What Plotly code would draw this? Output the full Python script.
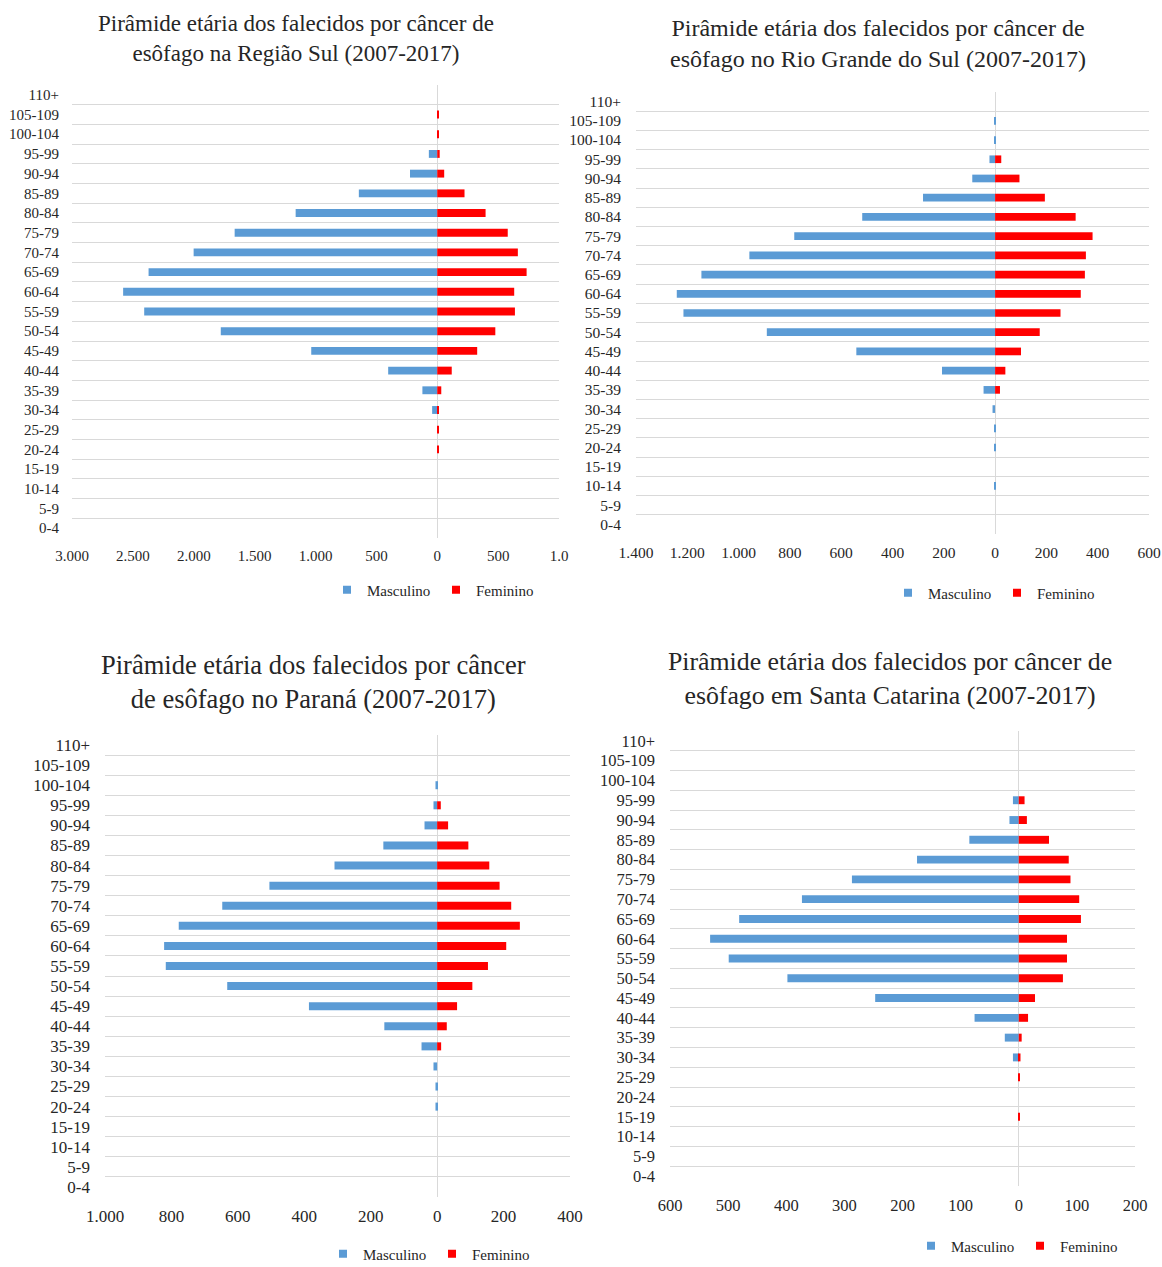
import plotly.graph_objects as go

# ---------------- data ----------------
AGES = ["0-4", "5-9", "10-14", "15-19", "20-24", "25-29", "30-34", "35-39",
        "40-44", "45-49", "50-54", "55-59", "60-64", "65-69", "70-74", "75-79",
        "80-84", "85-89", "90-94", "95-99", "100-104", "105-109", "110+"]

SUL_MASC = [0, 0, 0, 0, 0, 0, 42, 122, 403, 1035, 1778, 2407, 2580, 2371,
            2001, 1664, 1163, 644, 224, 69, 0, 0, 0]
SUL_FEM = [0, 0, 0, 0, 10, 10, 12, 33, 119, 328, 477, 638, 632, 734,
           662, 579, 397, 224, 57, 20, 10, 10, 0]

RS_MASC = [0, 0, 4, 0, 4, 4, 10, 45, 207, 541, 890, 1215, 1241, 1145,
           958, 783, 518, 281, 89, 22, 4, 4, 0]
RS_FEM = [0, 0, 0, 0, 0, 0, 0, 19, 40, 101, 174, 255, 334, 350,
          354, 380, 314, 194, 95, 24, 0, 0, 0]

PR_MASC = [0, 0, 0, 0, 5, 5, 11, 47, 159, 386, 632, 817, 822, 778,
           647, 505, 309, 162, 38, 11, 5, 0, 0]
PR_FEM = [0, 0, 0, 0, 0, 0, 0, 12, 29, 60, 106, 153, 208, 249,
          223, 188, 157, 94, 33, 11, 0, 0, 0]

SC_MASC = [0, 0, 0, 0, 0, 0, 10, 24, 76, 247, 398, 499, 531, 481,
           373, 287, 175, 85, 16, 10, 0, 0, 0]
SC_FEM = [0, 0, 0, 2, 0, 2, 3, 5, 16, 28, 76, 83, 83, 107,
          104, 89, 86, 52, 14, 10, 0, 0, 0]

SUL_XTICKS = [-3000, -2500, -2000, -1500, -1000, -500, 0, 500, 1000]
SUL_XTEXT = ["3.000", "2.500", "2.000", "1.500", "1.000", "500", "0", "500", "1.0"]
RS_XTICKS = [-1400, -1200, -1000, -800, -600, -400, -200, 0, 200, 400, 600]
RS_XTEXT = ["1.400", "1.200", "1.000", "800", "600", "400", "200", "0", "200", "400", "600"]
PR_XTICKS = [-1000, -800, -600, -400, -200, 0, 200, 400]
PR_XTEXT = ["1.000", "800", "600", "400", "200", "0", "200", "400"]
SC_XTICKS = [-600, -500, -400, -300, -200, -100, 0, 100, 200]
SC_XTEXT = ["600", "500", "400", "300", "200", "100", "0", "100", "200"]

TITLES = [
    "Pirâmide etária dos falecidos por câncer de<br>esôfago na Região Sul (2007-2017)",
    "Pirâmide etária dos falecidos por câncer de<br>esôfago no Rio Grande do Sul (2007-2017)",
    "Pirâmide etária dos falecidos por câncer<br>de esôfago no Paraná (2007-2017)",
    "Pirâmide etária dos falecidos por câncer de<br>esôfago em Santa Catarina (2007-2017)",
]
SERIES_NAMES = ["Masculino", "Feminino"]

# ---------------- layout helpers ----------------
W, H = 1162, 1267
FONT = "Liberation Serif"
BLUE = "#5B9BD5"
RED = "#FF0000"
GRID = "#D9D9D9"
TXT = "#262626"


def fx(px):
    return px / W


def fy(py):
    return 1 - py / H


panels = [
    dict(masc=SUL_MASC, fem=SUL_FEM, ticks=SUL_XTICKS, text=SUL_XTEXT,
         rng=[-3000, 1000], box=(72, 559, 85, 538), tfs=15, ystand=12,
         title=TITLES[0], tsize=23, tpos=(296, 38), leg=(436, 590)),
    dict(masc=RS_MASC, fem=RS_FEM, ticks=RS_XTICKS, text=RS_XTEXT,
         rng=[-1400, 600], box=(636, 1149, 92, 534), tfs=15.5, ystand=14,
         title=TITLES[1], tsize=24, tpos=(878, 44), leg=(997, 593)),
    dict(masc=PR_MASC, fem=PR_FEM, ticks=PR_XTICKS, text=PR_XTEXT,
         rng=[-1000, 400], box=(105, 570, 735, 1197), tfs=17, ystand=14,
         title=TITLES[2], tsize=26.5, tpos=(313, 682), leg=(432, 1254)),
    dict(masc=SC_MASC, fem=SC_FEM, ticks=SC_XTICKS, text=SC_XTEXT,
         rng=[-600, 200], box=(670, 1135, 731, 1186), tfs=16.5, ystand=14,
         title=TITLES[3], tsize=25.8, tpos=(890, 678), leg=(1020, 1246)),
]

fig = go.Figure()
layout = dict(
    width=W, height=H, margin=dict(l=0, r=0, t=0, b=0, autoexpand=False),
    paper_bgcolor="white", plot_bgcolor="white",
    barmode="overlay", bargap=0.6,
    font=dict(family=FONT, color=TXT),
    annotations=[],
)

for i, p in enumerate(panels):
    n = "" if i == 0 else str(i + 1)
    xa, ya = "x" + n, "y" + n
    legname = "legend" + n
    colors = [BLUE, RED]
    for k, (vals, sign) in enumerate([(p["masc"], -1), (p["fem"], 1)]):
        fig.add_trace(go.Bar(
            y=AGES, x=[sign * v for v in vals], orientation="h",
            name=SERIES_NAMES[k], marker=dict(color=colors[k], line=dict(width=0)),
            xaxis=xa, yaxis=ya, showlegend=False,
            legendgroup=f"{legname}-{k}",
            customdata=vals,
            hovertemplate="%{y}: %{customdata}<extra>" + SERIES_NAMES[k] + "</extra>",
        ))
        # legend entry (small square key) linked to the bar trace
        fig.add_trace(go.Scatter(
            x=[None], y=[None], mode="markers", name=SERIES_NAMES[k],
            marker=dict(symbol="square", size=8, color=colors[k]),
            xaxis=xa, yaxis=ya, legend=legname, legendgroup=f"{legname}-{k}",
            showlegend=True, hoverinfo="skip",
        ))
    x0, x1, y0, y1 = p["box"]
    layout["xaxis" + n] = dict(
        domain=[fx(x0), fx(x1)], anchor=ya, range=p["rng"],
        tickvals=p["ticks"], ticktext=p["text"], automargin=False,
        showgrid=False, zeroline=True, zerolinecolor=GRID, zerolinewidth=1,
        showline=False, ticks="outside", ticklen=4, tickcolor="rgba(0,0,0,0)",
        tickfont=dict(family=FONT, size=p["tfs"], color=TXT), fixedrange=True,
    )
    layout["yaxis" + n] = dict(
        domain=[fy(y1), fy(y0)], anchor=xa, type="category", automargin=False,
        categoryorder="array", categoryarray=AGES, range=[-0.5, len(AGES) - 0.5],
        tickmode="linear", tick0=0, dtick=1,
        tickson="boundaries", showgrid=True, gridcolor=GRID, gridwidth=1,
        showline=False, zeroline=False, ticks="", ticklabelstandoff=p["ystand"],
        tickfont=dict(family=FONT, size=p["tfs"], color=TXT), fixedrange=True,
    )
    layout[legname] = dict(
        orientation="h", x=fx(p["leg"][0]), y=fy(p["leg"][1]),
        xanchor="center", yanchor="middle", bgcolor="rgba(0,0,0,0)",
        font=dict(family=FONT, size=15, color=TXT), itemwidth=30,
        entrywidthmode="pixels", entrywidth=64,
        traceorder="normal", itemdoubleclick=False,
    )
    layout["annotations"].append(dict(
        text=p["title"], xref="paper", yref="paper",
        x=fx(p["tpos"][0]), y=fy(p["tpos"][1]), xanchor="center", yanchor="middle",
        showarrow=False, align="center",
        font=dict(family=FONT, size=p["tsize"], color=TXT),
    ))

fig.update_layout(**layout)
fig.write_html("out.html", config={"displayModeBar": False},
               post_script="document.body.style.margin='0';document.body.style.overflow='hidden';")
